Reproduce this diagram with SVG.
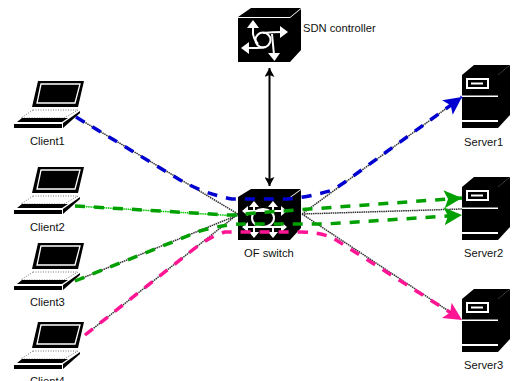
<svg xmlns="http://www.w3.org/2000/svg" width="512" height="381" viewBox="0 0 512 381">
<style>
text{font-family:"Liberation Sans",Arial,sans-serif;font-size:11.2px;fill:#111}
.w{fill:none;stroke:#fff;stroke-width:2}
.wf{fill:#fff}
.thin{fill:none;stroke:#333;stroke-width:1.500;stroke-dasharray:1.500 .7}
.d{fill:none;stroke-width:3.500;stroke-dasharray:10 9}
</style>
<defs>
<g id="laptop">
<path d="M38 81H84L78 107H32Z" fill="#000"/>
<path d="M41 84H80L75 103H37Z" fill="#000" stroke="#fff" stroke-width="1.300"/>
<path d="M33 110H78L64 118H21Z" fill="#fff" stroke="#555" stroke-width=".8" stroke-dasharray="1 1.500"/>
<path d="M22 118H68L62 122H17Z" fill="#000"/>
<path d="M14 124H62V128H14Z" fill="#000"/>
<path d="M63 123L80 111V113L63 128Z" fill="#000"/>
</g>
<g id="server">
<path d="M462 75L474 65H510L498 75Z" fill="#000"/>
<path d="M498 75L510 65V115L498 128Z" fill="#000"/>
<rect x="462" y="75" width="36" height="53" fill="#000"/>
<rect x="462" y="95.500" width="36" height="1.500" fill="#fff"/>
<rect x="462" y="120" width="36" height="2" fill="#fff"/>
<rect x="466" y="78" width="23" height="11" fill="#fff"/>
<rect x="468" y="80" width="19" height="7" fill="#000"/>
<rect x="471" y="82.500" width="12" height="2" fill="#fff"/>
</g>
<marker id="mb" markerUnits="userSpaceOnUse" markerWidth="20" markerHeight="20" refX="18" refY="10" orient="auto"><path d="M0 1L18 10L0 19L4 10Z" fill="#0000d0"/></marker>
<marker id="mg" markerUnits="userSpaceOnUse" markerWidth="20" markerHeight="20" refX="18" refY="10" orient="auto"><path d="M0 1L18 10L0 19L4 10Z" fill="#00a000"/></marker>
<marker id="mp" markerUnits="userSpaceOnUse" markerWidth="20" markerHeight="20" refX="18" refY="10" orient="auto"><path d="M0 1L18 10L0 19L4 10Z" fill="#ff1493"/></marker>
<marker id="mk" markerUnits="userSpaceOnUse" markerWidth="10" markerHeight="10" refX="9" refY="5" orient="auto-start-reverse"><path d="M0 0L9 5L0 10L2 5Z" fill="#000"/></marker>
</defs>

<g id="sdn-controller">
<path d="M238 17L251 8H301L290 17Z" fill="#000"/>
<path d="M290 18L301 9V50L290 62Z" fill="#000"/>
<rect x="238" y="18" width="52" height="44" fill="#000"/>
<circle cx="263" cy="40" r="7.500" class="w"/>
<path d="M253 26V34Q254 40 258 44M283 32Q272 32 263 33M246 48H256Q262 48 266 47M274 55L272 34" class="w"/>
<path d="M253 20L247 28H259ZM288 32L280 26V38ZM241 48L249 42V54ZM274.500 61L268 53H280Z" class="wf"/>
<text x="303" y="32">SDN controller</text>
</g>

<g id="of-switch">
<path d="M238 197L251 189H301L290 197Z" fill="#000"/>
<path d="M290 198L301 190V228L290 240Z" fill="#000"/>
<rect x="238" y="197" width="52" height="43" fill="#000"/>
<ellipse cx="263" cy="218" rx="11" ry="9" class="w"/>
<path d="M245 211H283M245 227H283M254 205V211M273 205V211M254 227V234M273 227V234" class="w"/>
<path d="M242 211L248 206V216ZM287 211L281 206V216ZM242 227L248 222V232ZM287 227L281 222V232ZM254 201L249 207H259ZM273 201L268 207H278ZM254 238L249 232H259ZM273 238L268 232H278Z" class="wf"/>
<text x="244" y="257">OF switch</text>
</g>

<g id="client1"><use href="#laptop"/><text x="30" y="145">Client1</text></g>
<g id="client2"><use href="#laptop" y="86"/><text x="30" y="231">Client2</text></g>
<g id="client3"><use href="#laptop" y="162"/><text x="30" y="306">Client3</text></g>
<g id="client4"><use href="#laptop" y="241"/><text x="30" y="385">Client4</text></g>
<g id="server1"><use href="#server"/><text x="464" y="146">Server1</text></g>
<g id="server2"><use href="#server" y="112"/><text x="464" y="257">Server2</text></g>
<g id="server3"><use href="#server" y="224"/><text x="464" y="369">Server3</text></g>

<g id="connectors">
<path d="M269.500 186V68" fill="none" stroke="#000" stroke-width="2" marker-start="url(#mk)" marker-end="url(#mk)"/>
<path class="thin" d="M76 117L238 214M75 281L238 215M85 335L238 214M302 214L455 102M302 214L462 209M302 214L450 312"/>
<path class="thin" style="stroke:#00c800" d="M75 206L238 216"/>
<path class="d" stroke="#0000d0" d="M76 117L180 180Q205 194 232 199H288Q310 197 333 190L345 182L462 97" marker-end="url(#mb)"/>
<path class="d" stroke="#00a000" d="M75 206L228 215Q240 215 255 213L462 198" marker-end="url(#mg)"/>
<path class="d" stroke="#00a000" d="M75 281L200 231Q225 224 245 224H325L462 215" marker-end="url(#mg)"/>
<path class="d" stroke="#ff1493" d="M85 335L190 252Q210 236 225 232H300Q320 232 333 238L462 320" marker-end="url(#mp)"/>
</g>
</svg>
